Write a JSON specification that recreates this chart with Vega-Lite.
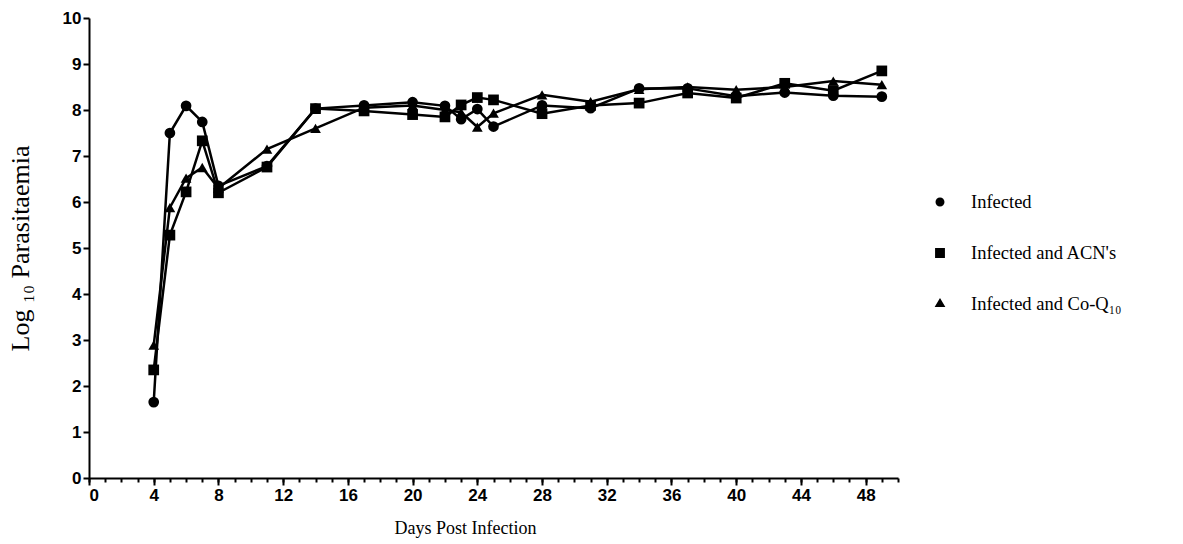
{
  "$schema": "https://vega.github.io/schema/vega-lite/v6.json",
  "width": 809,
  "height": 460,
  "autosize": {"type": "none"},
  "padding": {"left": 89, "top": 18, "right": 285, "bottom": 66},
  "background": "white",
  "config": {
    "view": {"stroke": null},
    "axis": {
      "domainColor": "black", "domainWidth": 2, "tickColor": "black", "tickWidth": 2,
      "labelFont": "Liberation Sans", "labelFontWeight": "bold", "labelFontSize": 17, "labelColor": "black",
      "titleFont": "Liberation Serif", "titleFontSize": 18, "titleFontWeight": "normal", "titleColor": "black",
      "grid": false
    }
  },
  "data": {"values": [
    {"day": 4, "series": "Infected", "v": 1.65},
    {"day": 5, "series": "Infected", "v": 7.5},
    {"day": 6, "series": "Infected", "v": 8.09},
    {"day": 7, "series": "Infected", "v": 7.74},
    {"day": 8, "series": "Infected", "v": 6.35},
    {"day": 11, "series": "Infected", "v": 6.78},
    {"day": 14, "series": "Infected", "v": 8.03},
    {"day": 17, "series": "Infected", "v": 8.1},
    {"day": 20, "series": "Infected", "v": 8.17},
    {"day": 22, "series": "Infected", "v": 8.09},
    {"day": 23, "series": "Infected", "v": 7.8},
    {"day": 24, "series": "Infected", "v": 8.02},
    {"day": 25, "series": "Infected", "v": 7.64},
    {"day": 28, "series": "Infected", "v": 8.1},
    {"day": 31, "series": "Infected", "v": 8.04},
    {"day": 34, "series": "Infected", "v": 8.47},
    {"day": 37, "series": "Infected", "v": 8.47},
    {"day": 40, "series": "Infected", "v": 8.3},
    {"day": 43, "series": "Infected", "v": 8.38},
    {"day": 46, "series": "Infected", "v": 8.31},
    {"day": 49, "series": "Infected", "v": 8.29},
    {"day": 4, "series": "Infected and ACN's", "v": 2.35},
    {"day": 5, "series": "Infected and ACN's", "v": 5.28},
    {"day": 6, "series": "Infected and ACN's", "v": 6.22},
    {"day": 7, "series": "Infected and ACN's", "v": 7.33},
    {"day": 8, "series": "Infected and ACN's", "v": 6.2},
    {"day": 11, "series": "Infected and ACN's", "v": 6.76},
    {"day": 14, "series": "Infected and ACN's", "v": 8.03},
    {"day": 17, "series": "Infected and ACN's", "v": 7.98},
    {"day": 20, "series": "Infected and ACN's", "v": 7.9},
    {"day": 22, "series": "Infected and ACN's", "v": 7.85},
    {"day": 23, "series": "Infected and ACN's", "v": 8.11},
    {"day": 24, "series": "Infected and ACN's", "v": 8.27},
    {"day": 25, "series": "Infected and ACN's", "v": 8.22},
    {"day": 28, "series": "Infected and ACN's", "v": 7.92},
    {"day": 31, "series": "Infected and ACN's", "v": 8.1},
    {"day": 34, "series": "Infected and ACN's", "v": 8.15},
    {"day": 37, "series": "Infected and ACN's", "v": 8.37},
    {"day": 40, "series": "Infected and ACN's", "v": 8.26},
    {"day": 43, "series": "Infected and ACN's", "v": 8.58},
    {"day": 46, "series": "Infected and ACN's", "v": 8.42},
    {"day": 49, "series": "Infected and ACN's", "v": 8.85},
    {"day": 4, "series": "Infected and Co-Q₁₀", "v": 2.89},
    {"day": 5, "series": "Infected and Co-Q₁₀", "v": 5.88},
    {"day": 6, "series": "Infected and Co-Q₁₀", "v": 6.52},
    {"day": 7, "series": "Infected and Co-Q₁₀", "v": 6.75},
    {"day": 8, "series": "Infected and Co-Q₁₀", "v": 6.3},
    {"day": 11, "series": "Infected and Co-Q₁₀", "v": 7.15},
    {"day": 14, "series": "Infected and Co-Q₁₀", "v": 7.6},
    {"day": 17, "series": "Infected and Co-Q₁₀", "v": 8.05},
    {"day": 20, "series": "Infected and Co-Q₁₀", "v": 8.1},
    {"day": 22, "series": "Infected and Co-Q₁₀", "v": 8.0},
    {"day": 23, "series": "Infected and Co-Q₁₀", "v": 7.95},
    {"day": 24, "series": "Infected and Co-Q₁₀", "v": 7.63},
    {"day": 25, "series": "Infected and Co-Q₁₀", "v": 7.93},
    {"day": 28, "series": "Infected and Co-Q₁₀", "v": 8.33},
    {"day": 31, "series": "Infected and Co-Q₁₀", "v": 8.18},
    {"day": 34, "series": "Infected and Co-Q₁₀", "v": 8.45},
    {"day": 37, "series": "Infected and Co-Q₁₀", "v": 8.5},
    {"day": 40, "series": "Infected and Co-Q₁₀", "v": 8.44},
    {"day": 43, "series": "Infected and Co-Q₁₀", "v": 8.5},
    {"day": 46, "series": "Infected and Co-Q₁₀", "v": 8.63},
    {"day": 49, "series": "Infected and Co-Q₁₀", "v": 8.55}
  ]},
  "layer": [
    {
      "mark": {"type": "line", "color": "black", "strokeWidth": 2.5},
      "encoding": {
        "x": {"field": "day", "type": "quantitative", "scale": {"domain": [0, 50], "nice": false},
          "axis": {"orient": "bottom", "values": [0,1,2,3,4,5,6,7,8,9,10,11,12,13,14,15,16,17,18,19,20,21,22,23,24,25,26,27,28,29,30,31,32,33,34,35,36,37,38,39,40,41,42,43,44,45,46,47,48,49,50],
            "tickSize": 4, "labels": false, "domain": false, "title": null}},
        "y": {"field": "v", "type": "quantitative", "scale": {"domain": [0, 10], "nice": false},
          "axis": {"values": [0,1,2,3,4,5,6,7,8,9,10], "tickSize": 6, "labelPadding": 2, "title": "Log ₁₀ Parasitaemia", "titleFontSize": 26, "titlePadding": 29}},
        "detail": {"field": "series", "type": "nominal"}
      }
    },
    {
      "mark": {"type": "point", "filled": true, "opacity": 1, "size": 115,
        "shape": {"expr": "datum.label != null ? (datum.label == 'Infected' ? 'M-1,0H1M0.31,0A0.31,0.31,0,1,1,-0.31,0A0.31,0.31,0,1,1,0.31,0Z' : indexof(datum.label, 'ACN') >= 0 ? 'M-1,0H1M-0.34,-0.34H0.34V0.34H-0.34Z' : 'M-1,0H1M0,-0.42L0.37,0.2H-0.37Z') : (datum.series == 'Infected' ? 'circle' : indexof(datum.series, 'ACN') >= 0 ? 'square' : 'triangle-up')"}},
      "encoding": {
        "x": {"field": "day", "type": "quantitative",
          "axis": {"orient": "bottom", "values": [0,4,8,12,16,20,24,28,32,36,40,44,48], "tickSize": 7, "labelPadding": 2, "title": "Days Post Infection", "titlePadding": 16, "titleX": 376}},
        "y": {"field": "v", "type": "quantitative"},
        "color": {"field": "series", "type": "nominal",
          "scale": {"range": ["black", "black", "black"]},
          "legend": {
            "title": null, "orient": "none", "legendX": 835, "legendY": 168,
            "symbolSize": 841, "rowPadding": 25, "labelOffset": 15,
            "labelFont": "Liberation Serif", "labelFontSize": 18.5, "labelColor": "black",
            "symbolStrokeWidth": 2.5,
            "encode": {"symbols": {
              "size": {"value": 841},
              "stroke": {"value": "black"}, "strokeWidth": {"value": 2.5}, "opacity": {"value": 1}
            }}
          }}
      }
    }
  ],
  "resolve": {"axis": {"x": "independent"}}
}
